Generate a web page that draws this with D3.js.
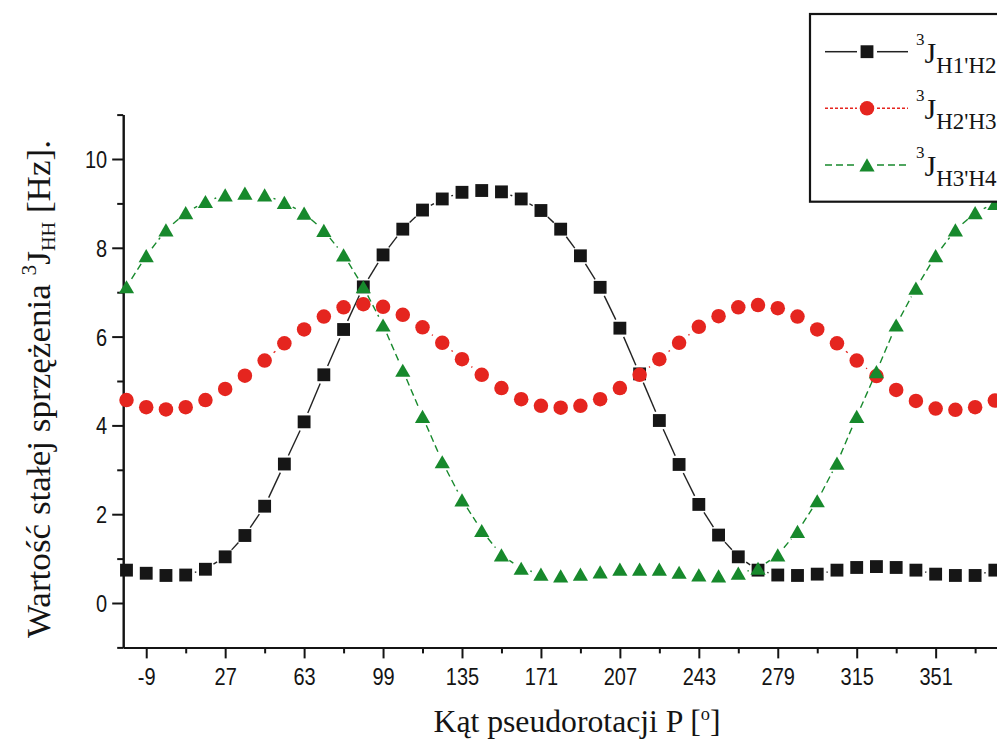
<!DOCTYPE html>
<html><head><meta charset="utf-8">
<script src="https://cdn.jsdelivr.net/npm/d3@7"></script>
<style>body{margin:0;background:#fff} svg{display:block}</style>
</head><body>
<svg id="c" width="997" height="740"></svg>
<script>
// Pseudorotation angle P [deg]
const angles = [-18,-9,0,9,18,27,36,45,54,63,72,81,90,99,108,117,126,135,144,153,162,171,180,189,198,207,216,225,234,243,252,261,270,279,288,297,306,315,324,333,342,351,360,369,378];
// 3J H1'H2'
const jH1H2 = [0.74,0.67,0.62,0.63,0.76,1.04,1.52,2.18,3.13,4.08,5.14,6.16,7.12,7.84,8.42,8.85,9.10,9.25,9.29,9.26,9.10,8.84,8.42,7.82,7.11,6.19,5.16,4.11,3.12,2.22,1.53,1.04,0.74,0.63,0.62,0.65,0.74,0.80,0.82,0.80,0.74,0.65,0.62,0.62,0.74];
// 3J H2'H3'
const jH2H3 = [4.57,4.41,4.36,4.41,4.57,4.82,5.12,5.46,5.85,6.16,6.45,6.66,6.73,6.67,6.49,6.21,5.86,5.49,5.14,4.84,4.59,4.44,4.40,4.44,4.59,4.84,5.14,5.49,5.86,6.22,6.46,6.66,6.71,6.64,6.45,6.16,5.85,5.46,5.11,4.80,4.55,4.38,4.35,4.41,4.56];
// 3J H3'H4'
const jH3H4 = [7.12,7.82,8.40,8.79,9.04,9.19,9.23,9.19,9.02,8.78,8.39,7.84,7.12,6.26,5.24,4.20,3.18,2.32,1.63,1.08,0.78,0.65,0.61,0.65,0.70,0.76,0.76,0.76,0.69,0.63,0.61,0.67,0.78,1.08,1.61,2.30,3.15,4.20,5.21,6.26,7.09,7.82,8.40,8.79,9.00];

const xMajorTicks = [-9,27,63,99,135,171,207,243,279,315,351];
const xMinorTicks = [9,45,81,117,153,189,225,261,297,333,369];
const yMajorTicks = [0,2,4,6,8,10];
const yMinorTicks = [-1,1,3,5,7,9,11];
const seriesSubs = ["H1'H2'","H2'H3'","H3'H4'"];

const svg = d3.select("#c");
svg.append("rect").attr("width",997).attr("height",740).attr("fill","#fff");

const x = d3.scaleLinear().domain([-19.5, 414]).range([123.2, 1073.8]);
const y = d3.scaleLinear().domain([-1, 11]).range([647.4, 114.6]);

const ink = "#141414";
const styles = [
  {color:"#161616", line:"#222", dash:null, sym:d3.symbolSquare, size:165, gap:9.5, shift:0},
  {color:"#e5251f", line:"#e5251f", dash:"3,2", sym:d3.symbolCircle, size:165, gap:12, shift:0},
  {color:"#17892c", line:"#17892c", dash:"7,4", sym:d3.symbolTriangle, size:100, gap:9.5, shift:2.1}
];
const series = [jH1H2, jH2H3, jH3H4];

// axes
function styleAxis(g){
  g.select(".domain").attr("stroke",ink).attr("stroke-width",2);
  g.selectAll(".tick line").attr("stroke",ink).attr("stroke-width",2);
}
const gxMin = svg.append("g").attr("transform",`translate(0,${y(-1)})`)
  .call(d3.axisBottom(x).tickValues(xMinorTicks).tickSize(6).tickSizeOuter(0).tickFormat(""));
styleAxis(gxMin);
const gx = svg.append("g").attr("transform",`translate(0,${y(-1)})`)
  .call(d3.axisBottom(x).tickValues(xMajorTicks).tickSize(11).tickSizeOuter(0).tickFormat(d=>String(d)));
styleAxis(gx);
gx.selectAll(".tick text").attr("y",0).attr("dy",null)
  .attr("transform","translate(0,37.5) scale(1,1.18)")
  .attr("font-family","'Liberation Sans', Arial, sans-serif").attr("font-size",20).attr("fill",ink);

const gyMin = svg.append("g").attr("transform",`translate(${x(-19.5)},0)`)
  .call(d3.axisLeft(y).tickValues(yMinorTicks).tickSize(6).tickSizeOuter(0).tickFormat(""));
styleAxis(gyMin);
const gy = svg.append("g").attr("transform",`translate(${x(-19.5)},0)`)
  .call(d3.axisLeft(y).tickValues(yMajorTicks).tickSize(11).tickSizeOuter(0).tickFormat(d=>String(d)));
styleAxis(gy);
gy.selectAll(".tick text").attr("x",0).attr("dy",null)
  .attr("transform","translate(-16,8.4) scale(1,1.18)")
  .attr("font-family","'Liberation Sans', Arial, sans-serif").attr("font-size",20).attr("fill",ink);

// series
series.forEach((vals, si) => {
  const st = styles[si];
  const g = svg.append("g");
  const pts = angles.map((a,i)=>[x(a), y(vals[i])]);
  for (let i=0;i<pts.length-1;i++){
    const [x1,y1]=pts[i],[x2,y2]=pts[i+1];
    const dx=x2-x1, dy=y2-y1, len=Math.hypot(dx,dy);
    if (len <= 2*st.gap+1) continue;
    const ux=dx/len, uy=dy/len;
    g.append("line")
      .attr("x1",x1+ux*st.gap).attr("y1",y1+uy*st.gap)
      .attr("x2",x2-ux*st.gap).attr("y2",y2-uy*st.gap)
      .attr("stroke",st.line).attr("stroke-width",1.4)
      .attr("stroke-dasharray",st.dash);
  }
  g.selectAll("path.m").data(pts).join("path").attr("class","m")
    .attr("d", d3.symbol().type(st.sym).size(st.size))
    .attr("transform", p=>`translate(${p[0]},${p[1]+st.shift})`)
    .attr("fill", st.color);
});

// legend
const leg = svg.append("g");
leg.append("rect").attr("x",810).attr("y",14).attr("width",300).attr("height",187.7)
  .attr("fill","#fff").attr("stroke",ink).attr("stroke-width",2.2);
const legY = [51.7,108.3,165];
styles.forEach((st,i)=>{
  const cy = legY[i];
  [[825,857],[877,908]].forEach(([a,b])=>{
    leg.append("line").attr("x1",a).attr("x2",b).attr("y1",cy).attr("y2",cy)
      .attr("stroke",st.line).attr("stroke-width",1.5).attr("stroke-dasharray",st.dash);
  });
  leg.append("path").attr("d",d3.symbol().type(st.sym).size(st.size))
    .attr("transform",`translate(867,${cy+st.shift})`).attr("fill",st.color);
  const t = leg.append("text").attr("font-family","'Liberation Serif','Times New Roman',serif").attr("fill",ink);
  t.append("tspan").attr("x",916).attr("y",cy-7).attr("font-size",17).text("3");
  t.append("tspan").attr("y",cy+11).attr("font-size",30).text("J");
  t.append("tspan").attr("y",cy+21).attr("font-size",23).text(seriesSubs[i]);
});

// axis titles
const xt = svg.append("text").attr("x",577).attr("y",731.5).attr("text-anchor","middle")
  .attr("font-family","'Liberation Serif','Times New Roman',serif").attr("font-size",31)
  .attr("textLength",287).attr("lengthAdjust","spacingAndGlyphs").attr("fill",ink);
xt.append("tspan").text("Kąt pseudorotacji P [");
xt.append("tspan").attr("font-size",18).attr("dy",-12).text("o");
xt.append("tspan").attr("dy",12).text("]");

const yt = svg.append("text").attr("transform","translate(50,389) rotate(-90)").attr("text-anchor","middle")
  .attr("font-family","'Liberation Serif','Times New Roman',serif").attr("font-size",33)
  .attr("textLength",498).attr("lengthAdjust","spacingAndGlyphs").attr("fill",ink);
yt.append("tspan").text("Wartość stałej sprzężenia ");
yt.append("tspan").attr("font-size",20).attr("dy",-14).text("3");
yt.append("tspan").attr("dy",14).text("J");
yt.append("tspan").attr("font-size",19).attr("dy",5).text("HH");
yt.append("tspan").attr("dy",-5).text(" [Hz].");
</script>
</body></html>
